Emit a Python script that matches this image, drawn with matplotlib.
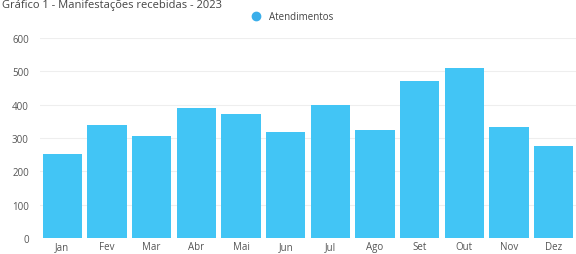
import matplotlib.pyplot as plt
from matplotlib.lines import Line2D

# Data
meses = ['Jan', 'Fev', 'Mar', 'Abr', 'Mai', 'Jun', 'Jul', 'Ago', 'Set', 'Out', 'Nov', 'Dez']
atendimentos = [253, 339, 306, 391, 373, 318, 400, 323, 471, 510, 333, 276]
titulo = 'Gráfico 1 - Manifestações recebidas - 2023'

cor_barra = '#42C5F5'
cor_texto = '#555555'

plt.rcParams['font.family'] = ['Open Sans', 'DejaVu Sans']

fig = plt.figure(figsize=(5.76, 2.55), dpi=100)
ax = fig.add_axes([40 / 576, (255 - 239) / 255, 536 / 576, 200 / 255])

x = range(len(meses))
ax.bar(x, atendimentos, width=0.88, color=cor_barra, zorder=2)

ax.set_xlim(-0.5, len(meses) - 0.5)
ax.set_ylim(0, 600)
ax.set_yticks(range(0, 601, 100))
ax.set_xticks(list(x))
ax.set_xticklabels(meses)
ax.tick_params(axis='both', length=0, labelsize=7, colors=cor_texto)
ax.tick_params(axis='x', pad=2)
ax.tick_params(axis='y', pad=8)
ax.grid(axis='y', color='#eeeeee', linewidth=0.8, zorder=0)
for s in ax.spines.values():
    s.set_visible(False)

# Legend
handle = Line2D([], [], marker='o', linestyle='', markersize=6,
                markerfacecolor='#3AAEEA', markeredgecolor='#3AAEEA')
fig.legend([handle], ['Atendimentos'], loc='center', bbox_to_anchor=(290 / 576, 1 - 18 / 255),
           frameon=False, fontsize=7, handletextpad=0.4, labelcolor='#444444')

# Title at the top edge
fig.text(2 / 576, 1.0, titulo, fontsize=8, color='#444444', ha='left', va='top')

fig.savefig('out.png', dpi=100, facecolor='white')
